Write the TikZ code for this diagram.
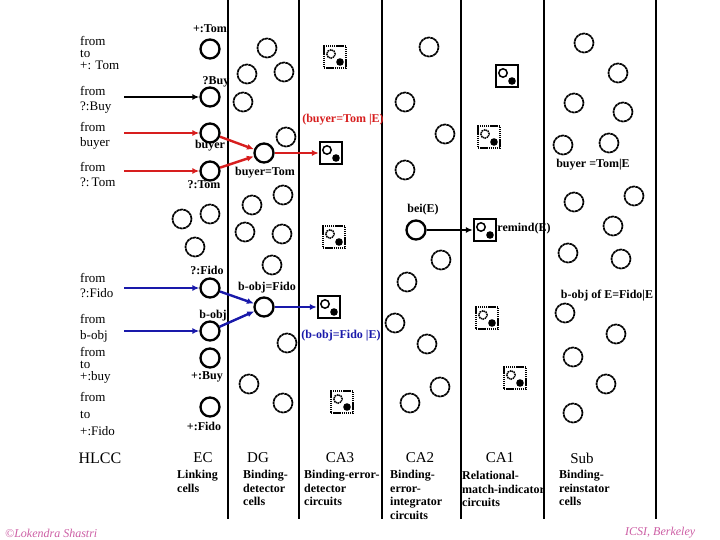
\documentclass[tikz,border=0pt]{standalone}
\usepackage{fontspec}
\setmainfont{Liberation Serif}
\usetikzlibrary{arrows.meta}
\definecolor{redA}{RGB}{215,30,30}
\definecolor{blueA}{RGB}{25,25,170}
\definecolor{pinkA}{RGB}{205,95,165}
\tikzset{
  ec/.style={circle,draw,line width=2.3pt,minimum size=19pt,inner sep=0pt},
  dc/.style={circle,draw,line width=1.7pt,dash pattern=on 3pt off 0.5pt,minimum size=19pt,inner sep=0pt},
  icon/.style={rectangle,minimum size=22pt,inner sep=0pt,
    path picture={\draw[line width=1.5pt] ([shift={(-4,-3)}]path picture bounding box.center) circle (4.2pt);
                  \fill ([shift={(5,5)}]path picture bounding box.center) circle (3.8pt);}},
  sq/.style={icon,draw,line width=2.3pt},
  dsq/.style={icon,draw,line width=2pt,dash pattern=on 1.4pt off 0.7pt},
  lab/.style={font=\fontsize{12}{13}\selectfont\bfseries,inner sep=0pt},
  hl/.style={font=\fontsize{13}{#1}\selectfont,align=left,anchor=west,inner sep=0pt},
  ttl/.style={font=\fontsize{15}{16}\selectfont,inner sep=0pt},
  desc/.style={font=\fontsize{12}{13.5}\selectfont\bfseries,align=left,anchor=north west,inner sep=0pt},
  arr/.style={-{Latex[length=7pt,width=6pt]},line width=2.4pt},
  foot/.style={font=\fontsize{12}{13}\selectfont\itshape,text=pinkA,inner sep=0pt}
}
\begin{document}
\begin{tikzpicture}[x=1pt,y=-1pt]
\useasboundingbox (0,0) rectangle (720,540);
\fill[white] (0,0) rectangle (720,540);
\foreach \x in {228,299,382,461,544,656} \draw[line width=2pt] (\x,0) -- (\x,519);

% scattered (dotted) circles
\foreach \x/\y [count=\i] in {182/219,210/214,195/247,
  267/48,247/74,284/72,243/102,286/137,252/205,283/195,245/232,282/234,272/265,287/343,249/384,283/403,
  429/47,405/102,445/134,405/170,441/260,407/282,395/323,427/344,440/387,410/403,
  584/43,618/73,574/103,623/112,563/145,609/143,574/202,634/196,613/226,568/253,621/259,565/313,616/334,573/357,606/384,573/413}
  \node[dc] (d\i) at (\x,\y) {};

% dotted squares
\foreach \x/\y [count=\i] in {335/57,334/237,342/402,489/137,487/318,515/378}
  \node[dsq] (q\i) at (\x,\y) {};

% EC linking cells
\node[ec] (tomp) at (210,49) {};
\node[ec] (buyq) at (210,97) {};
\node[ec] (buyer) at (210,133) {};
\node[ec] (tomq) at (210,171) {};
\node[ec] (fidoq) at (210,288) {};
\node[ec] (bobj) at (210,331) {};
\node[ec] (buyp) at (210,358) {};
\node[ec] (fidop) at (210,407) {};

% DG / CA2 active cells
\node[ec] (bt) at (264,153) {};
\node[ec] (bf) at (264,307) {};
\node[ec] (bei) at (416,230) {};

% CA3 / CA1 solid squares
\node[sq] (s1) at (331,153) {};
\node[sq] (s2) at (329,307) {};
\node[sq] (s3) at (507,76) {};
\node[sq] (rem) at (485,230) {};

% EC labels
\node[lab] (l1) at (210,29) {+:Tom};
\node[lab] (l2) at (216,82) {?Buy};
\node[lab] (l3) at (210,146) {buyer};
\node[lab] (l4) at (204,185) {?:Tom};
\node[lab] (l5) at (207,270) {?:Fido};
\node[lab] (l6) at (213,316) {b-obj};
\node[lab] (l7) at (207,377) {+:Buy};
\node[lab] (l8) at (204,426) {+:Fido};
\node[lab] (l9) at (265,173) {buyer=Tom};
\node[lab,text=redA] (l10) at (343,120) {(buyer=Tom |E)};
\node[lab] (l11) at (267,288) {b-obj=Fido};
\node[lab,text=blueA] (l12) at (341,336) {(b-obj=Fido |E)};
\node[lab] (l13) at (423,210) {bei(E)};
\node[lab] (l14) at (524,229) {remind(E)};
\node[lab] (l15) at (593,165) {buyer =Tom|E};
\node[lab] (l16) at (607,296) {b-obj of E=Fido|E};

% HLCC labels
\node[hl=12] (h1) at (80,53) {from\\to\\+: Tom};
\node[hl=14.5] (h2) at (80,100) {from\\?:Buy};
\node[hl=14.5] (h3) at (80,136) {from\\buyer};
\node[hl=15] (h4) at (80,174.5) {from\\?:\,Tom};
\node[hl=15] (h5) at (80,285.5) {from\\?:Fido};
\node[hl=16] (h6) at (80,328) {from\\b-obj};
\node[hl=12] (h7) at (80,365) {from\\to\\+:buy};
\node[hl=17] (h8) at (80,414) {from\\to\\+:Fido};

% input arrows
\coordinate (a2) at (124,97);
\coordinate (a3) at (124,133);
\coordinate (a4) at (124,171);
\coordinate (a5) at (124,288);
\coordinate (a6) at (124,331);
\draw[arr,line width=2pt] (a2) -- (buyq);
\draw[arr,redA] (a3) -- (buyer);
\draw[arr,redA] (a4) -- (tomq);
\draw[arr,blueA] (a5) -- (fidoq);
\draw[arr,blueA] (a6) -- (bobj);

% internal arrows
\draw[arr,redA] (buyer) -- (bt);
\draw[arr,redA] (tomq) -- (bt);
\draw[arr,redA] (bt) -- (s1);
\draw[arr,blueA] (fidoq) -- (bf);
\draw[arr,blueA] (bobj) -- (bf);
\draw[arr,blueA] (bf) -- (s2);
\draw[arr,line width=2pt] (bei) -- (rem);

% column titles
\node[ttl] (t1) at (100,458) {\fontsize{16}{17}\selectfont HLCC};
\node[ttl] (t2) at (203,458) {EC};
\node[ttl] (t3) at (258,458) {DG};
\node[ttl] (t4) at (340,458) {CA3};
\node[ttl] (t5) at (420,458) {CA2};
\node[ttl] (t6) at (500,458) {CA1};
\node[ttl] (t7) at (582,458) {Sub};

% descriptions
\node[desc] (e1) at (177,470) {Linking\\cells};
\node[desc] (e2) at (243,470) {Binding-\\detector\\cells};
\node[desc] (e3) at (304,470) {Binding-error-\\detector\\circuits};
\node[desc] (e4) at (390,470) {Binding-\\error-\\integrator\\circuits};
\node[desc] (e5) at (462,471) {Relational-\\match-indicator\\circuits};
\node[desc] (e6) at (559,470) {Binding-\\reinstator\\cells};

% footer
\node[foot,anchor=west] (f1) at (5,533) {\textcopyright Lokendra Shastri};
\node[foot,anchor=west] (f2) at (625,533) {ICSI, Berkeley};
\end{tikzpicture}
\end{document}
